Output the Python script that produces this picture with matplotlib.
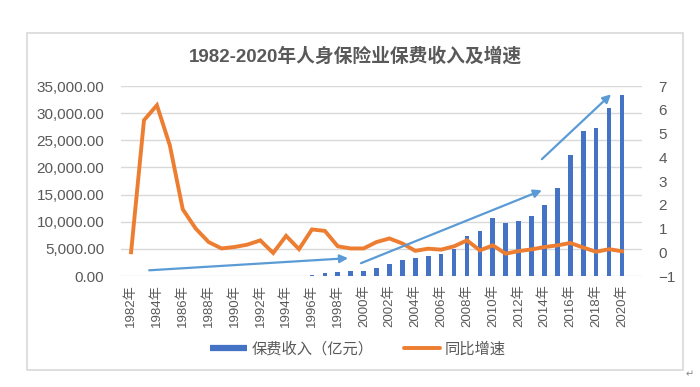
import matplotlib
matplotlib.use("Agg")
import matplotlib.pyplot as plt
from matplotlib.lines import Line2D
from matplotlib.patches import Rectangle
from matplotlib.ticker import FuncFormatter, MultipleLocator
import numpy as np

plt.rcParams['font.family'] = ['Liberation Sans', 'Noto Sans CJK SC', 'DejaVu Sans']

years = list(range(1982, 2021))
premium = [0.005, 0.03, 0.2, 1.2, 3.4, 6.8, 9.7, 11, 14, 18, 27, 26, 44, 50,
           180, 600, 745, 872, 1003, 1424, 2274, 3011, 3228, 3697, 4132, 5038,
           7447, 8261, 10632, 9721, 10157, 11010, 13031, 16288, 22235, 26746,
           27247, 30995, 33329]
growth = [0.0, 5.56, 6.19, 4.5, 1.81, 1.0, 0.43, 0.16, 0.22, 0.32, 0.5, -0.03,
          0.69, 0.13, 0.96, 0.9, 0.25, 0.16, 0.16, 0.43, 0.58, 0.37, 0.06, 0.15,
          0.11, 0.25, 0.5, 0.08, 0.29, -0.06, 0.05, 0.12, 0.22, 0.29, 0.39,
          0.2, 0.02, 0.13, 0.04]
tick_labels = [f"{y}年" for y in years]
title = "1982-2020年人身保险业保费收入及增速"
legend_labels = ["保费收入（亿元）", "同比增速"]
# trend arrows (category index, right-axis value): start -> end
arrows = [((1.4, -0.76), (16.8, -0.25)),
          ((17.8, -0.46), (31.8, 2.61)),
          ((31.8, 3.92), (37.15, 6.65))]

BLUE = "#4472C4"
ORANGE = "#ED7D31"
ARROW = "#5B9BD5"
GRAY = "#595959"
GRID = "#D9D9D9"

fig = plt.figure(figsize=(7, 3.87), dpi=100)
ax = fig.add_axes([121/700, 1-276/387, (642-121)/700, (276-86)/387])
x = np.arange(len(years))
ax.bar(x, premium, width=0.36, color=BLUE, zorder=2)
ax.set_xlim(-0.78, len(years) - 1 + 1.55)
ax.set_ylim(0, 35000)
ax.yaxis.set_major_locator(MultipleLocator(5000))
ax.yaxis.set_major_formatter(FuncFormatter(lambda v, p: f"{v:,.2f}"))
ax.grid(axis='y', color=GRID, lw=1.0, zorder=0)
ax.set_axisbelow(True)
for s in ax.spines.values():
    s.set_visible(False)
ax.tick_params(axis='y', length=0, pad=12, labelsize=11, labelcolor=GRAY)
ax.set_xticks(x[::2])
ax.set_xticklabels(tick_labels[::2], rotation=90, fontsize=9.5, color=GRAY)
ax.tick_params(axis='x', length=0, pad=6)

ax2 = ax.twinx()
ax2.plot(x, growth, color=ORANGE, lw=2.8, zorder=3, solid_joinstyle='miter')
ax2.set_ylim(-1, 7)
ax2.yaxis.set_major_locator(MultipleLocator(1))
ax2.tick_params(axis='y', length=0, pad=12, labelsize=11, labelcolor=GRAY)
for s in ax2.spines.values():
    s.set_visible(False)
for (x0, y0), (x1, y1) in arrows:
    ax2.annotate("", xy=(x1, y1), xytext=(x0, y0),
                 arrowprops=dict(arrowstyle='-|>', color=ARROW, lw=1.6,
                                 mutation_scale=12, shrinkA=0, shrinkB=0),
                 zorder=4)

fig.text(355/700, 1-56/387, title, ha='center', va='center', fontsize=13.5,
         fontweight='bold', color=GRAY)

handles = [Line2D([0], [0], color=BLUE, lw=4.5, solid_capstyle='butt'),
           Line2D([0], [0], color=ORANGE, lw=2.8, solid_capstyle='round')]
leg = fig.legend(handles, legend_labels, loc='center', ncol=2, frameon=False,
                 bbox_to_anchor=(358/700, 1-349/387), fontsize=11,
                 handlelength=2.4, handletextpad=0.3, columnspacing=2.0)
for t in leg.get_texts():
    t.set_color(GRAY)

fig.patches.append(Rectangle((27/700, 1-370/387), (683-27)/700, (370-33)/387,
                             transform=fig.transFigure, fill=False,
                             edgecolor=GRID, lw=1.2))
fig.text(686/700, 1-374/387, "↵", fontsize=7, color="#888888",
         family=['DejaVu Sans'], ha='left', va='center')

fig.savefig("out.png", dpi=100)
